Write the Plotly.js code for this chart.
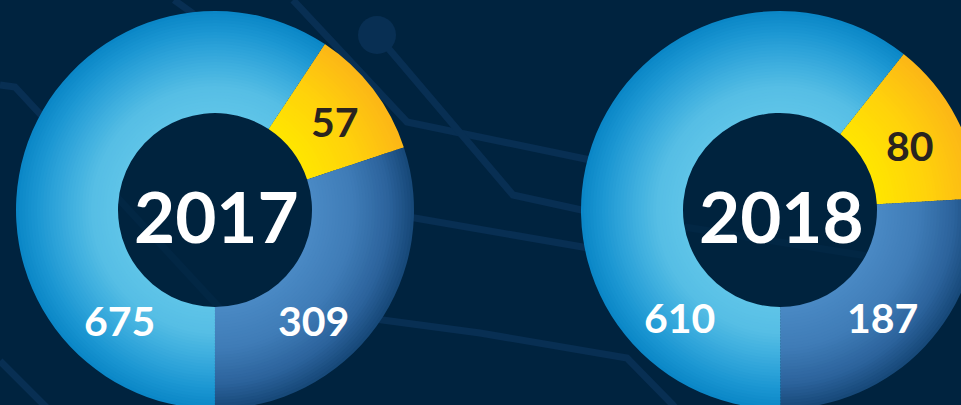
<!DOCTYPE html>
<html><head><meta charset="utf-8">
<script src="https://cdn.plot.ly/plotly-3.0.1.min.js"></script>
<style>
html,body{margin:0;padding:0;overflow:hidden;background:#00233f;}
#chart{width:1000px;height:440px;}
</style>
</head><body><div id="chart"></div>
<script>
// ---------------- data ----------------
const years = ['2017', '2018'];
const categories = ['Yellow segment', 'Mid-blue segment', 'Light-blue segment'];
const labels2017 = [57, 309, 675];
const labels2018 = [80, 187, 610];
// share of the ring each slice occupies, as drawn in the picture (percent)
const share2017 = [10.6, 30.1, 59.3];
const share2018 = [13.4, 25.9, 60.7];

// ---------------- style ----------------
const W = 1000, H = 440;
const BG = '#00233f', LINE = '#082f53';
const R_IN = 97, R_OUT = 199, N = 34;
const stops = [
  [[0,'#ffe600'],[0.5,'#ffd20b'],[1,'#fcb617']],
  [[0,'#4a89c4'],[0.4,'#3f7cb7'],[0.75,'#2c639c'],[1,'#164777']],
  [[0,'#5ec4e8'],[0.25,'#56bee5'],[0.55,'#36a9dc'],[0.8,'#1b96d2'],[1,'#0a86c6']]
];
function hex(c){return [parseInt(c.slice(1,3),16),parseInt(c.slice(3,5),16),parseInt(c.slice(5,7),16)];}
function colorAt(st,t){
  for(let i=1;i<st.length;i++){
    if(t<=st[i][0]){
      const a=hex(st[i-1][1]), b=hex(st[i][1]);
      const f=(t-st[i-1][0])/(st[i][0]-st[i-1][0]);
      return 'rgb('+a.map((v,j)=>Math.round(v+(b[j]-v)*f)).join(',')+')';
    }
  }
  return st[st.length-1][1];
}
const donuts = [
  {year: years[0], labels: labels2017, values: share2017, cx: 215, cy: 210, rot: 33.5,
   lab: [[335,122],[313,320],[119,320]]},
  {year: years[1], labels: labels2018, values: share2018, cx: 780, cy: 210, rot: 38.4,
   lab: [[910,145],[882,317],[679,317]]}
];
const px = x => x / W, py = y => (H - y) / H;

const traces = [];
donuts.forEach(d => {
  for (let k = N - 1; k >= 0; k--) {
    const rO = R_IN + (R_OUT - R_IN) * (k + 1) / N;
    const rI = k === 0 ? R_IN : R_IN + (R_OUT - R_IN) * k / N - 1.2;
    const t = (k + 0.5) / N;
    traces.push({
      type: 'pie', values: d.values, labels: categories, sort: false,
      direction: 'clockwise', rotation: d.rot, hole: rI / rO,
      domain: {x: [px(d.cx - rO), px(d.cx + rO)], y: [py(d.cy + rO), py(d.cy - rO)]},
      marker: {colors: stops.map(s => colorAt(s, t)), line: {width: 0}},
      textinfo: 'none', hoverinfo: 'skip', showlegend: false
    });
  }
});

function path(pts){return pts.map((p,i)=>(i?'L':'M')+px(p[0]).toFixed(4)+','+py(p[1]).toFixed(4)).join(' ');}
const circuit = [
  [[0,85],[15,87],[240,330]],
  [[0,361],[44,405],[80,440]],
  [[174,0],[230,40]],
  [[293,0],[407,122],[600,162]],
  [[377,35],[513,195],[600,214]],
  [[380,212],[600,250]],
  [[330,313],[480,333],[627,358],[673,405],[700,440]],
  [[640,220],[880,258]]
];
const shapes = circuit.map(p => ({type:'path', xref:'paper', yref:'paper', path: path(p),
  line:{color: LINE, width: 7}, layer:'below'}));
shapes.push({type:'circle', xref:'paper', yref:'paper', x0:px(358), x1:px(396), y0:py(54), y1:py(16),
  fillcolor: LINE, line:{width:0}, layer:'below'});
donuts.forEach(d => shapes.push({type:'circle', xref:'paper', yref:'paper',
  x0:px(d.cx-R_IN), x1:px(d.cx+R_IN), y0:py(d.cy+R_IN+1), y1:py(d.cy-R_IN+1),
  fillcolor: BG, opacity: 0.7, line:{width:0}, layer:'below'}));

const annotations = [];
donuts.forEach(d => {
  annotations.push({text: d.year, x: px(d.cx+1), y: py(d.cy+5), xref:'paper', yref:'paper',
    showarrow:false, xanchor:'center', yanchor:'middle',
    font:{family:'Lato', size:71, color:'#ffffff', weight:700}});
  d.labels.forEach((v,i) => annotations.push({text: String(v), x: px(d.lab[i][0]), y: py(d.lab[i][1]),
    xref:'paper', yref:'paper', showarrow:false, xanchor:'center', yanchor:'middle',
    font:{family:'Lato', size:41, color: i===0 ? '#2a241f' : '#ffffff', weight:700}}));
});

Plotly.newPlot('chart', traces, {
  width: W, height: H, margin:{l:0,r:0,t:0,b:0,pad:0},
  paper_bgcolor: BG, plot_bgcolor: BG, showlegend:false,
  shapes: shapes, annotations: annotations
}, {staticPlot: true});
</script>
</body></html>
